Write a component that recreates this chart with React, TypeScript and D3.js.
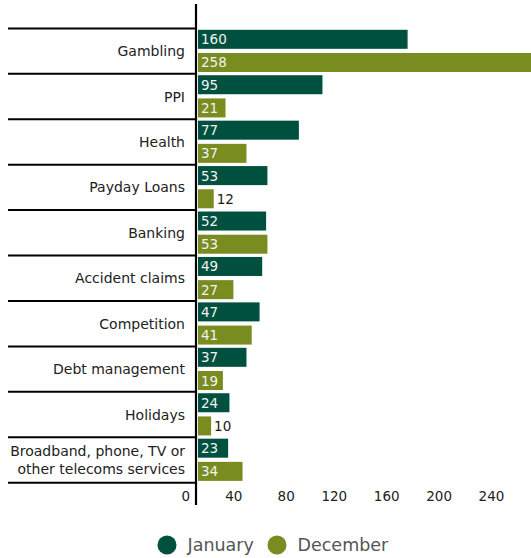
import React from "react";
import * as d3 from "d3";

const categories = [
  "Gambling",
  "PPI",
  "Health",
  "Payday Loans",
  "Banking",
  "Accident claims",
  "Competition",
  "Debt management",
  "Holidays",
  "Broadband, phone, TV or|other telecoms services",
];
const january = [160, 95, 77, 53, 52, 49, 47, 37, 24, 23];
const december = [258, 21, 37, 12, 53, 27, 41, 19, 10, 34];
const seriesNames = ["January", "December"];
const seriesColors = ["#00503F", "#798C20"];
const tickValues = [0, 40, 80, 120, 160, 200, 240];

const W = 531;
const H = 558;
const FONT = "'DejaVu Sans', Verdana, sans-serif";

export default function App() {
  const x = d3.scaleLinear().domain([0, 240]).range([198, 198 + 240 * 1.31]);
  const y = d3.scaleBand<string>().domain(categories).range([28.4, 482.7]).paddingInner(0).paddingOuter(0);
  const sub = d3.scaleBand<string>().domain(seriesNames).range([1.4, 43.6]).paddingInner(0.18).paddingOuter(0);
  const series = [january, december];
  const bounds = categories.map((c) => y(c)!).concat([y.range()[1]]);

  return (
    <svg width={W} height={H} style={{ position: "absolute", left: 0, top: 0, display: "block" }} fontFamily={FONT}>
      {/* separators */}
      {bounds.map((b, i) => (
        <line key={"s" + i} x1={8} x2={196} y1={b} y2={b} stroke="#000" strokeWidth={2} />
      ))}
      {/* bars */}
      {categories.map((c, ci) =>
        series.map((vals, si) => {
          const v = vals[ci];
          const by = y(c)! + sub(seriesNames[si])!;
          const bw = x(v) - x(0);
          const inside = v >= 15;
          return (
            <g key={c + si}>
              <rect x={x(0)} y={by} width={bw} height={sub.bandwidth()} fill={seriesColors[si]} />
              <text
                x={inside ? x(0) + 3 : x(v) + 3}
                y={by + sub.bandwidth() / 2}
                dominantBaseline="central"
                fontSize={13.5}
                fill={inside ? "#f2f2f2" : "#1a1a1a"}
              >
                {v}
              </text>
            </g>
          );
        })
      )}
      {/* category labels */}
      {categories.map((c) => {
        const lines = c.split("|");
        const cy = y(c)! + y.bandwidth() / 2;
        const lh = 17.6;
        return (
          <text key={c} x={185} textAnchor="end" fontSize={14} fill="#222">
            {lines.map((l, i) => (
              <tspan key={i} x={185} y={cy + (i - (lines.length - 1) / 2) * lh} dominantBaseline="central">
                {l}
              </tspan>
            ))}
          </text>
        );
      })}
      {/* axis line */}
      <line x1={196} x2={196} y1={4} y2={505} stroke="#000" strokeWidth={2.2} />
      {/* tick labels */}
      {tickValues.map((t) => (
        <text key={t} x={x(t) - 8} y={501} textAnchor="end" fontSize={13.5} fill="#222">
          {t}
        </text>
      ))}
      {/* legend */}
      {seriesNames.map((s, i) => {
        const cx = i === 0 ? 167 : 277;
        return (
          <g key={s}>
            <circle cx={cx} cy={545} r={9.5} fill={seriesColors[i]} />
            <text x={cx + 20.5} y={545} dominantBaseline="central" fontSize={17.5} fill="#555">
              {s}
            </text>
          </g>
        );
      })}
    </svg>
  );
}
